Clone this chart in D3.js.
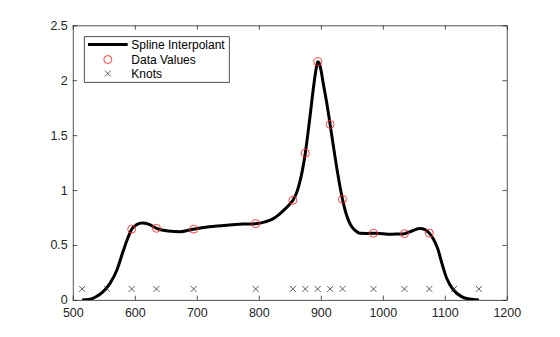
<!DOCTYPE html>
<html>
<head>
<meta charset="utf-8">
<script src="https://cdn.jsdelivr.net/npm/d3@7"></script>
<style>
  html, body { margin: 0; padding: 0; background: #fff; }
  svg { display: block; }
  text { font-family: "Liberation Sans", Arial, Helvetica, sans-serif; }
</style>
</head>
<body>
<svg id="chart" width="560" height="337"></svg>
<script>
// ---- data ----
const dataX = [595, 635, 695, 795, 855, 875, 895, 915, 935, 985, 1035, 1075];
const dataY = [0.644, 0.652, 0.644, 0.694, 0.907, 1.336, 2.169, 1.598, 0.916, 0.607, 0.603, 0.608];
const knotsX = [515, 555, 595, 635, 695, 795, 855, 875, 895, 915, 935, 985, 1035, 1075, 1115, 1155];
const knotY = 0.1;
// spline curve
const curveX = [515, 525, 536, 549, 560, 571, 581, 589.5, 595, 603, 612, 622, 635, 654, 673, 694, 720, 748, 775, 795, 810, 822, 831, 840, 848, 855, 861, 866, 870, 875, 882.6, 889, 893, 895, 897, 900, 904, 910, 915, 923, 931, 935, 940, 945, 950, 957, 963, 975, 985, 1000, 1012, 1025, 1035, 1048, 1060, 1068, 1075, 1082, 1089, 1095, 1103, 1114, 1127, 1140, 1155];
const curveY = [0, 0.003, 0.024, 0.075, 0.15, 0.27, 0.44, 0.575, 0.644, 0.685, 0.70, 0.69, 0.652, 0.627, 0.62, 0.644, 0.665, 0.68, 0.69, 0.694, 0.71, 0.735, 0.77, 0.815, 0.86, 0.907, 0.975, 1.07, 1.17, 1.336, 1.67, 1.97, 2.12, 2.169, 2.16, 2.10, 1.97, 1.78, 1.598, 1.30, 1.03, 0.916, 0.80, 0.72, 0.666, 0.625, 0.606, 0.605, 0.607, 0.602, 0.597, 0.600, 0.603, 0.63, 0.65, 0.64, 0.608, 0.55, 0.46, 0.34, 0.197, 0.09, 0.03, 0.008, 0];
const xTicks = [500, 600, 700, 800, 900, 1000, 1100, 1200];
const yTicks = [0, 0.5, 1, 1.5, 2, 2.5];
const legendLabels = ["Spline Interpolant", "Data Values", "Knots"];

// ---- layout ----
const svg = d3.select("#chart");
const L = 72.8, R = 506.8, T = 25.3, B = 299.9;
const axisColor = "#262626";
const x = d3.scaleLinear().domain([500, 1200]).range([L, R]);
const y = d3.scaleLinear().domain([0, 2.5]).range([B, T]);

const tickLen = 4.3;
const gx = svg.append("g").attr("transform", `translate(0,${B})`)
  .call(d3.axisBottom(x).tickValues(xTicks).tickSizeInner(-tickLen).tickSizeOuter(0).tickPadding(8).tickFormat(d3.format("d")));
const gxt = svg.append("g").attr("transform", `translate(0,${T})`)
  .call(d3.axisTop(x).tickValues(xTicks).tickSizeInner(-tickLen).tickSizeOuter(0).tickFormat(""));
const gy = svg.append("g").attr("transform", `translate(${L},0)`)
  .call(d3.axisLeft(y).tickValues(yTicks).tickSizeInner(-tickLen).tickSizeOuter(0).tickPadding(5).tickFormat(d => String(d)));
const gyr = svg.append("g").attr("transform", `translate(${R},0)`)
  .call(d3.axisRight(y).tickValues(yTicks).tickSizeInner(-tickLen).tickSizeOuter(0).tickFormat(""));

[gx, gxt, gy, gyr].forEach(g => {
  g.select(".domain").attr("stroke", axisColor).attr("stroke-width", 0.8);
  g.selectAll(".tick line").attr("stroke", axisColor).attr("stroke-width", 0.8);
  g.selectAll(".tick text").attr("fill", axisColor).attr("font-size", "12.5px")
    .attr("font-family", '"Liberation Sans", Arial, sans-serif');
});
gx.selectAll(".tick text").attr("dy", "0.71em").attr("y", 8);

svg.append("defs").append("clipPath").attr("id", "clip")
  .append("rect").attr("x", L).attr("y", T).attr("width", R - L).attr("height", B - T);

const plot = svg.append("g").attr("clip-path", "url(#clip)");

const curvePts = curveX.map((v, i) => [v, curveY[i]]);
const line = d3.line().x(d => x(d[0])).y(d => y(d[1])).curve(d3.curveMonotoneX);
plot.append("path").datum(curvePts)
  .attr("d", line).attr("fill", "none").attr("stroke", "#000").attr("stroke-width", 3)
  .attr("stroke-linejoin", "round");

plot.selectAll("circle.data").data(dataX.map((v, i) => [v, dataY[i]])).join("circle")
  .attr("class", "data")
  .attr("cx", d => x(d[0])).attr("cy", d => y(d[1])).attr("r", 4)
  .attr("fill", "none").attr("stroke", "#ff2a2a").attr("stroke-width", 0.9);

const cs = 3;
plot.selectAll("path.knot").data(knotsX).join("path")
  .attr("class", "knot")
  .attr("d", d => {
    const cx = x(d), cy = y(knotY);
    return `M${cx - cs},${cy - cs}L${cx + cs},${cy + cs}M${cx - cs},${cy + cs}L${cx + cs},${cy - cs}`;
  })
  .attr("stroke", "#333").attr("stroke-width", 0.8).attr("fill", "none");

const lg = svg.append("g");
lg.append("rect").attr("x", 84.3).attr("y", 36.7).attr("width", 145).attr("height", 45.6)
  .attr("fill", "#fff").attr("stroke", "#262626").attr("stroke-width", 0.8);
const rowY = [44.5, 59.5, 73.5];
lg.append("line").attr("x1", 88).attr("x2", 127.7).attr("y1", rowY[0]).attr("y2", rowY[0])
  .attr("stroke", "#000").attr("stroke-width", 3);
lg.append("circle").attr("cx", 107.8).attr("cy", rowY[1]).attr("r", 4)
  .attr("fill", "none").attr("stroke", "#ff2a2a").attr("stroke-width", 0.9);
lg.append("path")
  .attr("d", `M${107.8 - cs},${rowY[2] - cs}L${107.8 + cs},${rowY[2] + cs}M${107.8 - cs},${rowY[2] + cs}L${107.8 + cs},${rowY[2] - cs}`)
  .attr("stroke", "#333").attr("stroke-width", 0.8);
lg.selectAll("text").data(legendLabels).join("text")
  .attr("x", 131.3).attr("y", (d, i) => rowY[i]).attr("dy", "0.35em")
  .attr("font-size", "12px").attr("fill", "#000").text(d => d);
</script>
</body>
</html>
